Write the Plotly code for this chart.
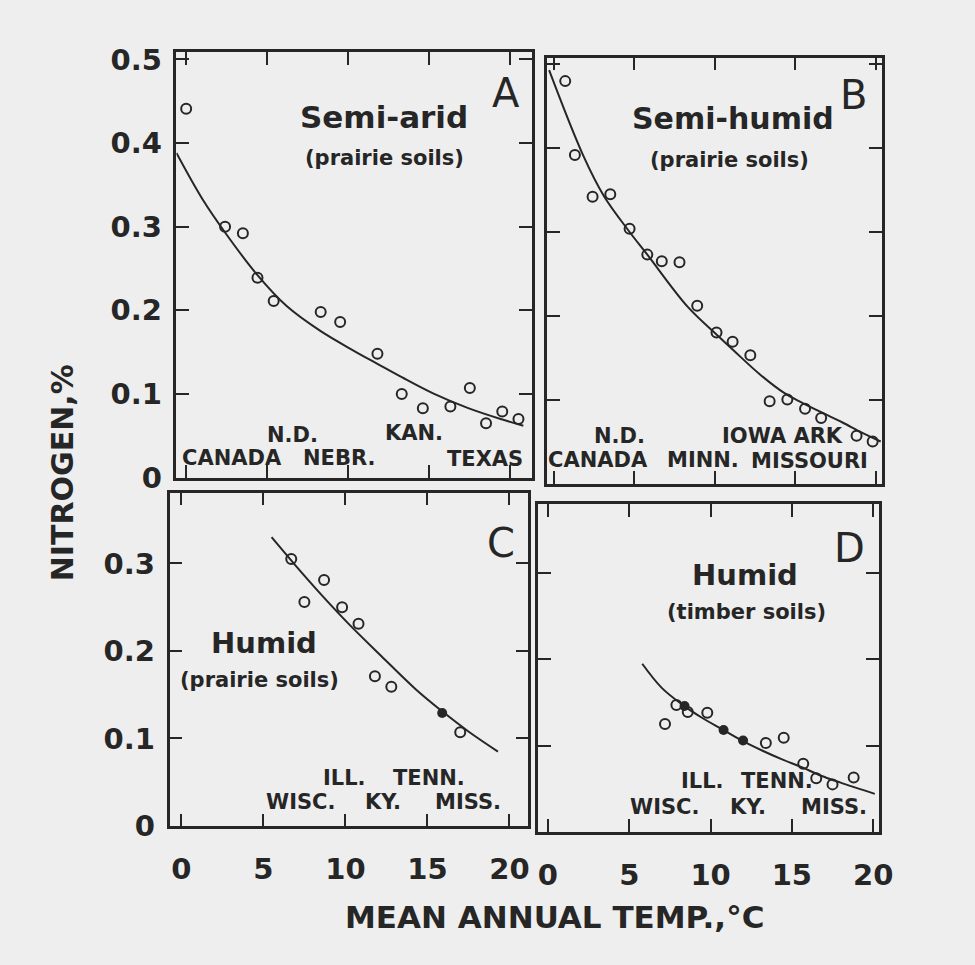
import plotly.graph_objects as go

# ---------------- data ----------------
# Panel A: Semi-arid (prairie soils)
A_T = [0.0, 2.4, 3.5, 4.4, 5.4, 8.3, 9.5, 11.8, 13.3, 14.6, 16.3, 17.5, 18.5, 19.5, 20.5]
A_N = [0.441, 0.300, 0.292, 0.239, 0.211, 0.198, 0.186, 0.148, 0.100, 0.083, 0.085, 0.107, 0.065, 0.079, 0.070]
A_CURVE_T = [-0.6, 1.0, 2.4, 4.4, 6.2, 8.3, 10.4, 11.8, 13.3, 15.3, 17.4, 19.4, 20.8]
A_CURVE_N = [0.388, 0.333, 0.293, 0.242, 0.205, 0.175, 0.151, 0.136, 0.120, 0.100, 0.083, 0.070, 0.062]

# Panel B: Semi-humid (prairie soils)
B_T = [0.7, 1.3, 2.4, 3.5, 4.7, 5.8, 6.7, 7.8, 8.9, 10.1, 11.1, 12.2, 13.4, 14.5, 15.6, 16.6, 18.8, 19.8]
B_N = [0.480, 0.392, 0.342, 0.345, 0.304, 0.273, 0.265, 0.264, 0.212, 0.180, 0.169, 0.153, 0.098, 0.100, 0.089, 0.078, 0.057, 0.050]
B_CURVE_T = [-0.3, 1.8, 3.1, 4.7, 5.8, 8.3, 10.2, 11.2, 12.8, 14.3, 15.4, 16.6, 17.9, 19.1, 20.3]
B_CURVE_N = [0.493, 0.392, 0.343, 0.300, 0.273, 0.211, 0.176, 0.158, 0.130, 0.108, 0.0965, 0.085, 0.073, 0.061, 0.050]

# Panel C: Humid (prairie soils)
C_T = [6.7, 8.7, 7.5, 9.8, 10.8, 11.8, 12.8, 17.0]
C_N = [0.305, 0.281, 0.256, 0.250, 0.231, 0.171, 0.159, 0.107]
C_FILLED_T = [15.9]
C_FILLED_N = [0.129]
C_CURVE_T = [5.5, 6.9, 8.5, 10.2, 12.2, 14.3, 15.9, 17.5, 19.3]
C_CURVE_N = [0.330, 0.299, 0.265, 0.231, 0.194, 0.156, 0.131, 0.108, 0.085]

# Panel D: Humid (timber soils)
D_T = [7.2, 7.9, 8.6, 9.8, 13.4, 14.5, 15.7, 16.5, 17.5, 18.8]
D_N = [0.125, 0.147, 0.139, 0.138, 0.103, 0.109, 0.079, 0.062, 0.055, 0.063]
D_FILLED_T = [8.4, 10.8, 12.0]
D_FILLED_N = [0.146, 0.118, 0.106]
D_CURVE_T = [5.8, 7.0, 8.3, 9.5, 10.7, 11.9, 13.2, 14.4, 15.6, 16.8, 18.0, 20.1]
D_CURVE_N = [0.195, 0.167, 0.147, 0.132, 0.119, 0.106, 0.094, 0.084, 0.075, 0.065, 0.057, 0.044]

# Tick labels
X_TICKVALS = [0, 5, 10, 15, 20]
X_TICKTEXT = ["0", "5", "10", "15", "20"]
Y_TICKVALS_TOP = [0, 0.1, 0.2, 0.3, 0.4, 0.5]
Y_TICKTEXT_TOP = ["0", "0.1", "0.2", "0.3", "0.4", "0.5"]
Y_TICKVALS_BOT = [0, 0.1, 0.2, 0.3]
Y_TICKTEXT_BOT = ["0", "0.1", "0.2", "0.3"]

# Texts
X_TITLE = "MEAN ANNUAL TEMP.,°C"
Y_TITLE = "NITROGEN,%"
PANEL_LETTERS = ["A", "B", "C", "D"]
CLIMATES = ["Semi-arid", "Semi-humid", "Humid", "Humid"]
SOILS = ["(prairie soils)", "(prairie soils)", "(prairie soils)", "(timber soils)"]
LOCS_A = ["N.D.", "CANADA", "NEBR.", "KAN.", "TEXAS"]
LOCS_B = ["N.D.", "CANADA", "MINN.", "IOWA ARK", "MISSOURI"]
LOCS_C = ["ILL.", "TENN.", "WISC.", "KY.", "MISS."]
LOCS_D = ["ILL.", "TENN.", "WISC.", "KY.", "MISS."]

# ---------------- styling / layout ----------------
W, H = 975, 965
INK = "#262626"
BG = "#eeeeee"
FONT = "DejaVu Sans"


def fx(px):
    return px / W


def fy(py):
    return 1 - py / H


# panel pixel boxes and data ranges
PANELS = [
    dict(x=(179, 540), y=(44, 482), xr=(-0.6, 21.35), yr=(-0.0005, 0.509)),
    dict(x=(555, 895), y=(50, 488), xr=(-0.43, 20.39), yr=(-0.0005, 0.508)),
    dict(x=(172, 536), y=(497, 840), xr=(-0.72, 21.15), yr=(-0.0005, 0.381)),
    dict(x=(546, 892), y=(509, 846), xr=(-0.6, 20.37), yr=(-0.0005, 0.380)),
]

fig = go.Figure()

series = [
    (A_T, A_N, None, None, A_CURVE_T, A_CURVE_N),
    (B_T, B_N, None, None, B_CURVE_T, B_CURVE_N),
    (C_T, C_N, C_FILLED_T, C_FILLED_N, C_CURVE_T, C_CURVE_N),
    (D_T, D_N, D_FILLED_T, D_FILLED_N, D_CURVE_T, D_CURVE_N),
]

for i, (t, n, ft, fn, ct, cn) in enumerate(series):
    sfx = "" if i == 0 else str(i + 1)
    xa, ya = "x" + sfx, "y" + sfx
    fig.add_trace(go.Scatter(x=ct, y=cn, mode="lines", xaxis=xa, yaxis=ya,
                             line=dict(color=INK, width=2, shape="spline", smoothing=1.0),
                             hoverinfo="skip", showlegend=False))
    fig.add_trace(go.Scatter(x=t, y=n, mode="markers", xaxis=xa, yaxis=ya,
                             marker=dict(symbol="circle-open", size=10, color=INK,
                                         line=dict(width=2, color=INK)),
                             showlegend=False))
    if ft:
        fig.add_trace(go.Scatter(x=ft, y=fn, mode="markers", xaxis=xa, yaxis=ya,
                                 marker=dict(symbol="circle", size=10, color=INK),
                                 showlegend=False))

axis_common = dict(showline=True, mirror="ticks", linewidth=2.5, linecolor=INK,
                   ticks="inside", ticklen=13, tickwidth=2, tickcolor=INK,
                   showgrid=False, zeroline=False, fixedrange=True,
                   tickfont=dict(family=FONT, size=29, color=INK, weight="bold"))

layout_axes = {}
for i, p in enumerate(PANELS):
    sfx = "" if i == 0 else str(i + 1)
    xdom = [fx(p["x"][0]), fx(p["x"][1])]
    ydom = [fy(p["y"][1]), fy(p["y"][0])]
    show_x = i in (2, 3)
    show_y = i in (0, 2)
    yvals = Y_TICKVALS_TOP if i < 2 else Y_TICKVALS_BOT
    ytext = Y_TICKTEXT_TOP if i < 2 else Y_TICKTEXT_BOT
    layout_axes["xaxis" + sfx] = dict(axis_common, domain=xdom, range=list(p["xr"]),
                                      anchor="y" + sfx, tickvals=X_TICKVALS,
                                      ticktext=X_TICKTEXT, showticklabels=show_x,
                                      ticklabelstandoff=15)
    layout_axes["yaxis" + sfx] = dict(axis_common, domain=ydom, range=list(p["yr"]),
                                      anchor="x" + sfx, tickvals=yvals,
                                      ticktext=ytext, showticklabels=show_y,
                                      ticklabelstandoff=6)

annotations = []


def add_text(text, px, py, size, bold=True, angle=0):
    annotations.append(dict(
        text=text, x=fx(px), y=fy(py), xref="paper", yref="paper",
        xanchor="center", yanchor="middle", showarrow=False, textangle=angle,
        font=dict(family=FONT, size=size, color=INK, weight="bold" if bold else "normal")))


# axis titles
add_text(Y_TITLE, 63, 477, 30, angle=-90)
add_text(X_TITLE, 563, 933, 31)

# panel letters
for letter, (px, py) in zip(PANEL_LETTERS, [(513, 86), (866, 88), (508, 549), (862, 554)]):
    add_text(letter, px, py, 40, bold=False)

# climate titles and soil subtitles
for txt, (px, py), size in zip(CLIMATES, [(390, 111), (744, 113), (268, 652), (756, 582)],
                               [31, 30, 29, 29]):
    add_text(txt, px, py, size)
for txt, (px, py) in zip(SOILS, [(390, 153), (740, 155), (263, 690), (757, 620)]):
    add_text(txt, px, py, 21)

# location labels
LOC_POS_A = [(297, 438), (235, 461), (344, 461), (420, 436), (492, 462)]
LOC_POS_B = [(629, 439), (607, 464), (713, 464), (794, 439), (821, 465)]
LOC_POS_C = [(350, 790), (435, 790), (305, 815), (389, 815), (475, 815)]
LOC_POS_D = [(713, 793), (788, 793), (675, 820), (759, 820), (846, 820)]
for labels, positions in [(LOCS_A, LOC_POS_A), (LOCS_B, LOC_POS_B),
                          (LOCS_C, LOC_POS_C), (LOCS_D, LOC_POS_D)]:
    for txt, (px, py) in zip(labels, positions):
        add_text(txt, px, py, 21)

fig.update_layout(
    width=W, height=H, autosize=False,
    margin=dict(l=0, r=0, t=0, b=0, pad=0),
    paper_bgcolor=BG, plot_bgcolor=BG,
    font=dict(family=FONT, color=INK),
    showlegend=False,
    annotations=annotations,
    **layout_axes,
)

fig.write_html("out.html", config={"displayModeBar": False},
               post_script="document.body.style.margin='0';document.body.style.overflow='hidden';")
